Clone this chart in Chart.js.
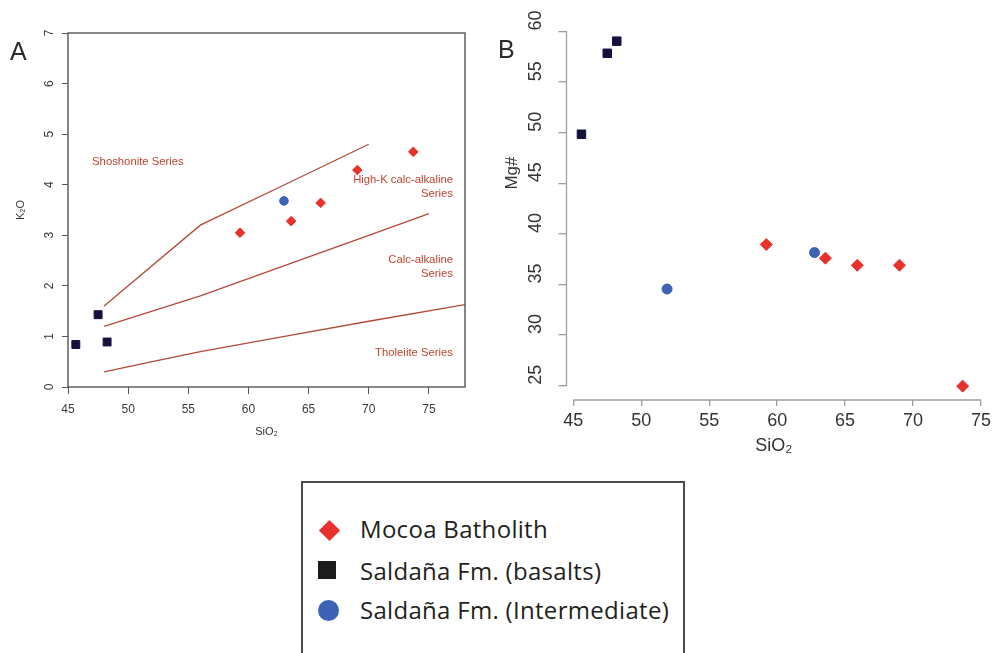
<!DOCTYPE html>
<html>
<head>
<meta charset="utf-8">
<script src="https://cdn.jsdelivr.net/npm/chart.js@4"></script>
<style>
  html, body { margin: 0; padding: 0; background: #fff; }
  #wrap { position: relative; width: 995px; height: 653px; overflow: hidden; font-family: "Liberation Sans", Arial, sans-serif; }
  #cA { position: absolute; left: 0; top: 0; }
  #cB { position: absolute; left: 480px; top: 0; }
  .panel { position: absolute; font-size: 25px; line-height: 25px; color: #2a2a2a; }
  #mg { position: absolute; left: 482px; top: 163px; width: 60px; height: 20px; line-height: 20px; text-align: center;
        font-size: 17px; color: #333; transform: rotate(-90deg); }
  #legend { position: absolute; left: 301px; top: 481px; width: 384px; height: 200px; box-sizing: border-box;
            border: 2px solid #4a4a4a; font-family: "Open Sans", "Noto Sans", sans-serif; font-size: 24px;
            letter-spacing: 0.3px; color: #231f20; }
  .row { position: absolute; left: 57px; height: 40px; line-height: 40px; white-space: nowrap; }
  .mk { position: absolute; }
  .dia { left: 18.5px; top: 39.5px; width: 15px; height: 15px; background: #e8312a; transform: rotate(45deg); }
  .sq { left: 15px; top: 78px; width: 18px; height: 18px; background: #1c1c1c; }
  .ci { left: 14.5px; top: 116.5px; width: 21px; height: 21px; border-radius: 50%; background: #3d63b5; }
</style>
</head>
<body>
<div id="wrap">
  <canvas id="cA" width="480" height="440"></canvas>
  <canvas id="cB" width="515" height="470"></canvas>
  <div class="panel" style="left:10px;top:39px;">A</div>
  <div class="panel" style="left:498px;top:37px;">B</div>
  <div id="mg">Mg#</div>
  <div id="legend">
    <div class="mk dia"></div>
    <div class="mk sq"></div>
    <div class="mk ci"></div>
    <div class="row" style="top:26px;">Mocoa Batholith</div>
    <div class="row" style="top:68px;">Saldaña Fm. (basalts)</div>
    <div class="row" style="top:107px;">Saldaña Fm. (Intermediate)</div>
  </div>
</div>
<script>
// ---- data: panel A (K2O vs SiO2) ----
const mocoaSiO2A = [59.3, 63.55, 66.0, 69.05, 73.7];
const mocoaK2O = [3.05, 3.28, 3.64, 4.29, 4.65];
const basaltSiO2A = [45.65, 47.5, 48.25];
const basaltK2O = [0.84, 1.43, 0.89];
const interSiO2A = [62.95];
const interK2O = [3.68];

// series boundaries (Peccerillo & Taylor style)
const shoSiO2 = [48, 56, 63, 70];
const shoK2O = [1.6, 3.2, 4.0, 4.8];
const hkSiO2 = [48, 52, 56, 63, 70, 75];
const hkK2O = [1.2, 1.5, 1.8, 2.4, 3.0, 3.43];
const thSiO2 = [48, 52, 56, 63, 70, 78];
const thK2O = [0.3, 0.5, 0.7, 1.0, 1.3, 1.63];

const xTicksA = [45, 50, 55, 60, 65, 70, 75];
const yTicksA = [0, 1, 2, 3, 4, 5, 6, 7];
const seriesNames = ["Shoshonite Series", "High-K calc-alkaline", "Series", "Calc-alkaline", "Series", "Tholeiite Series"];

// ---- data: panel B (Mg# vs SiO2) ----
const mocoaSiO2B = [59.2, 63.55, 65.9, 69.0, 73.65];
const mocoaMg = [38.95, 37.6, 36.9, 36.9, 24.95];
const basaltSiO2B = [45.6, 47.5, 48.2];
const basaltMg = [49.85, 57.85, 59.05];
const interSiO2B = [51.9, 62.75];
const interMg = [34.55, 38.15];

const xTicksB = [45, 50, 55, 60, 65, 70, 75];
const yTicksB = [25, 30, 35, 40, 45, 50, 55, 60];

// ---- styling ----
const RED = "#e8312a";
const NAVY = "#14123c";
const BLUE = "#3d63b5";
const LINE = "#b24a3a";
const LABEL = "#c0452f";

// where the series names sit, in data units
const nameAnchors = [
  { x: 47.0, y: 4.45, align: "left" },
  { x: 77.0, y: 4.09, align: "right" },
  { x: 77.0, y: 3.81, align: "right" },
  { x: 77.0, y: 2.51, align: "right" },
  { x: 77.0, y: 2.23, align: "right" },
  { x: 77.0, y: 0.67, align: "right" }
];

const zip = (xs, ys) => xs.map((x, i) => ({ x, y: ys[i] }));
const fixTicks = vals => s => { s.ticks = vals.map(v => ({ value: v })); };

const boxPlugin = {
  id: "box",
  afterDraw(chart) {
    const { ctx, chartArea: a } = chart;
    ctx.save();
    ctx.strokeStyle = "#555";
    ctx.lineWidth = 1.4;
    ctx.strokeRect(a.left, a.top, a.right - a.left, a.bottom - a.top);
    ctx.restore();
  }
};

const namesPlugin = {
  id: "names",
  afterDatasetsDraw(chart) {
    const { ctx, scales } = chart;
    ctx.save();
    ctx.fillStyle = LABEL;
    ctx.font = "11.3px 'Liberation Sans', Arial, sans-serif";
    ctx.textBaseline = "middle";
    seriesNames.forEach((t, i) => {
      const p = nameAnchors[i];
      ctx.textAlign = p.align;
      ctx.fillText(t, scales.x.getPixelForValue(p.x), scales.y.getPixelForValue(p.y));
    });
    ctx.restore();
  }
};

const axisLinesPlugin = {
  id: "axisLines",
  afterDraw(chart) {
    const { ctx, chartArea: a, scales } = chart;
    ctx.save();
    ctx.strokeStyle = "#a89c98";
    ctx.lineWidth = 1.3;
    ctx.beginPath();
    ctx.moveTo(a.left, scales.y.getPixelForValue(yTicksB[0]));
    ctx.lineTo(a.left, scales.y.getPixelForValue(yTicksB[yTicksB.length - 1]));
    ctx.moveTo(scales.x.getPixelForValue(xTicksB[0]), a.bottom);
    ctx.lineTo(scales.x.getPixelForValue(xTicksB[xTicksB.length - 1]), a.bottom);
    ctx.stroke();
    ctx.restore();
  }
};

const lineSet = (xs, ys) => ({
  data: zip(xs, ys), showLine: true, pointRadius: 0, borderColor: LINE, borderWidth: 1.3, fill: false
});

// --- Panel A ---
new Chart(document.getElementById("cA"), {
  type: "scatter",
  data: {
    datasets: [
      { data: zip(mocoaSiO2A, mocoaK2O), pointStyle: "rectRot", pointRadius: 4.8, backgroundColor: RED, borderColor: RED, borderWidth: 1 },
      { data: zip(basaltSiO2A, basaltK2O), pointStyle: "rect", pointRadius: 5.6, backgroundColor: NAVY, borderColor: NAVY, borderWidth: 1 },
      { data: zip(interSiO2A, interK2O), pointStyle: "circle", pointRadius: 4.3, backgroundColor: BLUE, borderColor: BLUE, borderWidth: 1 },
      lineSet(shoSiO2, shoK2O),
      lineSet(hkSiO2, hkK2O),
      lineSet(thSiO2, thK2O)
    ]
  },
  options: {
    responsive: false,
    animation: false,
    layout: { padding: { top: 33, right: 15, left: 0, bottom: 0 } },
    plugins: { legend: { display: false }, tooltip: { enabled: false } },
    scales: {
      x: {
        type: "linear", min: 45, max: 78,
        afterBuildTicks: fixTicks(xTicksA),
        afterFit: s => { s.height = 53; },
        grid: { drawOnChartArea: false, tickLength: 7, color: "#555" },
        border: { display: false },
        ticks: { color: "#3a3a3a", font: { size: 12, family: "'Liberation Sans', Arial" }, padding: 8, autoSkip: false, maxRotation: 0 },
        title: { display: true, text: "SiO₂", color: "#333", font: { size: 11, family: "'Liberation Sans', Arial" }, padding: { top: 0, bottom: 1 } }
      },
      y: {
        type: "linear", min: 0, max: 7,
        afterBuildTicks: fixTicks(yTicksA),
        afterFit: s => { s.width = 68; },
        grid: { drawOnChartArea: false, tickLength: 6, color: "#555" },
        border: { display: false },
        ticks: { color: "#3a3a3a", font: { size: 12, family: "'Liberation Sans', Arial" }, padding: 9, autoSkip: false,
                 minRotation: 90, maxRotation: 90, crossAlign: "center" },
        title: { display: true, text: "K₂O", color: "#333", font: { size: 11, family: "'Liberation Sans', Arial" }, padding: { top: 14, bottom: 0 } }
      }
    }
  },
  plugins: [boxPlugin, namesPlugin]
});

// --- Panel B ---
new Chart(document.getElementById("cB"), {
  type: "scatter",
  data: {
    datasets: [
      { data: zip(mocoaSiO2B, mocoaMg), pointStyle: "rectRot", pointRadius: 6, backgroundColor: RED, borderColor: RED, borderWidth: 1 },
      { data: zip(basaltSiO2B, basaltMg), pointStyle: "rect", pointRadius: 6, backgroundColor: NAVY, borderColor: NAVY, borderWidth: 1 },
      { data: zip(interSiO2B, interMg), pointStyle: "circle", pointRadius: 5, backgroundColor: BLUE, borderColor: BLUE, borderWidth: 1 }
    ]
  },
  options: {
    responsive: false,
    animation: false,
    layout: { padding: { top: 27, right: 12.7, left: 0, bottom: 0 } },
    plugins: { legend: { display: false }, tooltip: { enabled: false } },
    scales: {
      x: {
        type: "linear", min: 44.5, max: 75,
        afterBuildTicks: fixTicks(xTicksB),
        afterFit: s => { s.height = 70; },
        grid: { drawOnChartArea: false, tickLength: 6, color: "#a89c98", lineWidth: 1.3 },
        border: { display: false },
        ticks: { color: "#333", font: { size: 18, family: "'Liberation Sans', Arial" }, padding: 4, autoSkip: false, maxRotation: 0 },
        title: { display: true, text: "SiO₂", color: "#333", font: { size: 18, family: "'Liberation Sans', Arial" }, padding: { top: 0, bottom: 13 } }
      },
      y: {
        type: "linear", min: 23.58, max: 60.45,
        afterBuildTicks: fixTicks(yTicksB),
        afterFit: s => { s.width = 86.5; },
        grid: { drawOnChartArea: false, tickLength: 8, color: "#a89c98", lineWidth: 1.3 },
        border: { display: false },
        ticks: { color: "#333", font: { size: 18, family: "'Liberation Sans', Arial" }, padding: 12, autoSkip: false,
                 minRotation: 90, maxRotation: 90, crossAlign: "center", labelOffset: -11 }
      }
    }
  },
  plugins: [axisLinesPlugin]
});
</script>
</body>
</html>
